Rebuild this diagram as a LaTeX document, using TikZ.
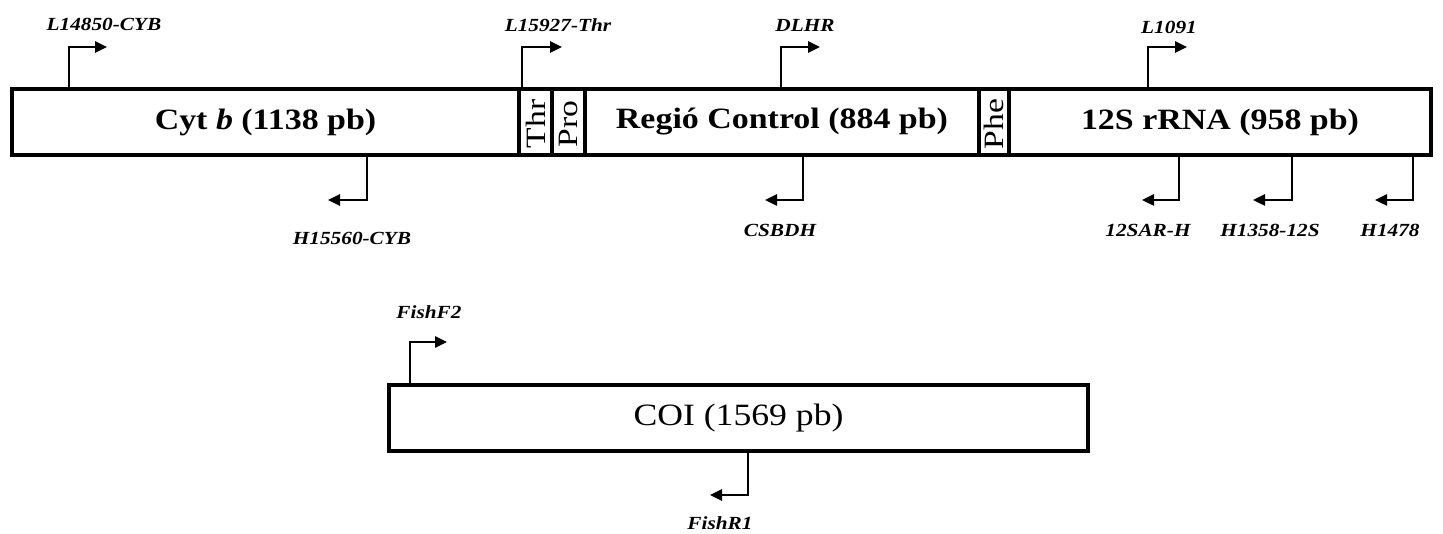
\documentclass[tikz,border=0pt]{standalone}
\usepackage{fontspec}
\usepackage{graphicx}
\setmainfont{Liberation Serif}
\usetikzlibrary{arrows.meta}
\newcommand\hs[1]{\scalebox{1.15}[1]{#1}}
\newcommand\vs[1]{\scalebox{1.2}[1]{#1}}
\begin{document}
\begin{tikzpicture}[x=1pt,y=-1pt,
  seg/.style={draw, line width=4.5pt, rectangle, inner sep=0pt, minimum height=66pt,
              font=\fontsize{29.5}{29.5}\selectfont\bfseries},
  rot/.style={rotate=90, inner sep=0pt, font=\fontsize{28}{28}\selectfont},
  primer/.style={line width=2.5pt, -{Triangle[length=12pt,width=11pt]}},
  plabel/.style={font=\fontsize{18.5}{18.5}\selectfont\bfseries\itshape, inner sep=0pt}]
\useasboundingbox (0,0) rectangle (1443,534);

% top map
\node[seg, minimum width=507pt] (cytb) at (265.5,122) {\hs{Cyt \textit{b} (1138 pb)}};
\node[seg, minimum width=33pt] (thr) at (535.5,122) {};
\node[seg, minimum width=33pt] (pro) at (568.5,122) {};
\node[seg, minimum width=394pt] (ctrl) at (782,122) {\hs{Regió Control (884 pb)}};
\node[seg, minimum width=30pt] (phe) at (994,122) {};
\node[seg, minimum width=422pt] (rrna) at (1220,122) {\hs{12S rRNA (958 pb)}};
\node[rot] (thrt) at ([yshift=-2pt]thr.center) {\vs{Thr}};
\node[rot] (prot) at ([yshift=-2pt]pro.center) {\vs{Pro}};
\node[rot] (phet) at ([yshift=-2pt]phe.center) {\vs{Phe}};

% COI
\node[seg, minimum width=699pt, font=\fontsize{31}{31}\selectfont\mdseries] (coi) at (738.5,418) {\hs{COI (1569 pb)}};

% forward primers (top)
\coordinate (a1) at (69,89);   \coordinate (b1) at (107,47);
\coordinate (a2) at (522,89);  \coordinate (b2) at (562,47);
\coordinate (a3) at (781,89);  \coordinate (b3) at (820,47);
\coordinate (a4) at (1148,89); \coordinate (b4) at (1187,47);
\draw[primer] (a1) |- (b1);
\draw[primer] (a2) |- (b2);
\draw[primer] (a3) |- (b3);
\draw[primer] (a4) |- (b4);
\node[plabel] (l1) at (104,24) {\hs{L14850-CYB}};
\node[plabel] (l2) at (558,25) {\hs{L15927-Thr}};
\node[plabel] (l3) at (805,25) {\hs{DLHR}};
\node[plabel] (l4) at (1169,27) {\hs{L1091}};

% reverse primers (bottom)
\coordinate (a5) at (367,155);  \coordinate (b5) at (328,200);
\coordinate (a6) at (803,155);  \coordinate (b6) at (765,200);
\coordinate (a7) at (1179,155); \coordinate (b7) at (1142,200);
\coordinate (a8) at (1292,155); \coordinate (b8) at (1253,200);
\coordinate (a9) at (1413,155); \coordinate (b9) at (1375,200);
\draw[primer] (a5) |- (b5);
\draw[primer] (a6) |- (b6);
\draw[primer] (a7) |- (b7);
\draw[primer] (a8) |- (b8);
\draw[primer] (a9) |- (b9);
\node[plabel] (l5) at (352,238) {\hs{H15560-CYB}};
\node[plabel] (l6) at (780,230) {\hs{CSBDH}};
\node[plabel] (l7) at (1148,230) {\hs{12SAR-H}};
\node[plabel] (l8) at (1270,230) {\hs{H1358-12S}};
\node[plabel] (l9) at (1390,230) {\hs{H1478}};

% COI primers
\coordinate (a10) at (410,385); \coordinate (b10) at (447,342);
\coordinate (a11) at (748,451); \coordinate (b11) at (710,495);
\draw[primer] (a10) |- (b10);
\draw[primer] (a11) |- (b11);
\node[plabel] (l10) at (429,312) {\hs{FishF2}};
\node[plabel] (l11) at (720,523) {\hs{FishR1}};
\end{tikzpicture}
\end{document}
